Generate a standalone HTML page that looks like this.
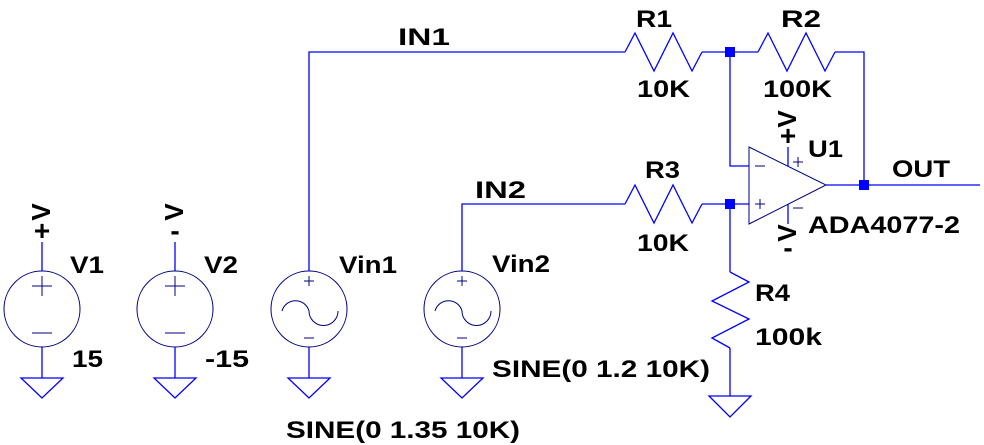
<!DOCTYPE html>
<html><head><style>body{margin:0;background:#fff}svg{display:block}text{font-family:"Liberation Sans",sans-serif;font-weight:bold;font-size:24px;fill:#000}</style></head><body>
<svg width="984" height="445" viewBox="0 0 984 445" xmlns="http://www.w3.org/2000/svg">
<g stroke="#0000ff" stroke-width="1.3" fill="none">
<polyline points="309,271 309,52 625,52"/>
<line x1="702" y1="52" x2="758" y2="52"/>
<polyline points="835,52 864,52 864,185"/>
<polyline points="730,52 730,166 749,166"/>
<line x1="826" y1="185" x2="980" y2="185"/>
<polyline points="462,271 462,204 625,204"/>
<line x1="702" y1="204" x2="749" y2="204"/>
<line x1="730" y1="204" x2="730" y2="272"/>
<line x1="730" y1="348" x2="730" y2="396"/>
<line x1="42" y1="242" x2="42" y2="271"/><line x1="42" y1="347" x2="42" y2="378"/>
<line x1="175" y1="242" x2="175" y2="271"/><line x1="175" y1="347" x2="175" y2="378"/>
<line x1="309" y1="347" x2="309" y2="378"/>
<line x1="462" y1="347" x2="462" y2="378"/>
<line x1="788" y1="147" x2="788" y2="166"/><line x1="788" y1="204" x2="788" y2="224"/>
<polygon points="21,378 63,378 42,398"/><polygon points="154,378 196,378 175,398"/>
<polygon points="288,378 330,378 309,398"/><polygon points="441,378 483,378 462,398"/>
<polygon points="709,396 751,396 730,417"/>
<polyline points="625,52 635,33 654,71 673,33 692,71 702,52"/>
<polyline points="758,52 768,33 787,71 806,33 825,71 835,52"/>
<polyline points="625,204 635,185 654,223 673,185 692,223 702,204"/>
<polyline points="730,272 749,282 712,301 749,319 712,338 730,348"/>
</g>
<g stroke="#000080" stroke-width="1" fill="none">
<circle cx="42" cy="309" r="38"/><circle cx="175" cy="309" r="38"/>
<circle cx="309" cy="309" r="38"/><circle cx="462" cy="309" r="38"/>
<path d="M32,286h20M42,276v20M32,333h20"/>
<path d="M165,286h20M175,276v20M165,333h20"/>
<path d="M304,281h10M309,276v10M304,338h10"/>
<path d="M457,281h10M462,276v10M457,338h10"/>
<path d="M282,311 A14,14 0 0 1 309,311 A14,14 0 0 0 338,311"/>
<path d="M435,311 A14,14 0 0 1 462,311 A14,14 0 0 0 491,311"/>
<polygon points="749,147 826,185 749,224"/>
<path d="M755,166h10M755,204h10M760,199v10M793,162h10M798,157v10M793,208h10"/>
</g>
<g fill="#0000ff">
<rect x="725" y="47" width="10" height="10"/><rect x="859" y="180" width="10" height="10"/><rect x="725" y="199" width="10" height="10"/>
</g>
<g lengthAdjust="spacingAndGlyphs">
<text x="398" y="45" textLength="52" lengthAdjust="spacingAndGlyphs">IN1</text>
<text x="636" y="27" textLength="36" lengthAdjust="spacingAndGlyphs">R1</text>
<text x="781" y="27" textLength="40" lengthAdjust="spacingAndGlyphs">R2</text>
<text x="637" y="97" textLength="53" lengthAdjust="spacingAndGlyphs">10K</text>
<text x="763" y="97" textLength="69" lengthAdjust="spacingAndGlyphs">100K</text>
<text x="808" y="157" textLength="35" lengthAdjust="spacingAndGlyphs">U1</text>
<text x="892" y="177" textLength="58" lengthAdjust="spacingAndGlyphs">OUT</text>
<text x="808" y="233" textLength="152" lengthAdjust="spacingAndGlyphs">ADA4077-2</text>
<text x="645" y="178" textLength="35" lengthAdjust="spacingAndGlyphs">R3</text>
<text x="475" y="198" textLength="51" lengthAdjust="spacingAndGlyphs">IN2</text>
<text x="637" y="251" textLength="52" lengthAdjust="spacingAndGlyphs">10K</text>
<text x="492" y="272" textLength="58" lengthAdjust="spacingAndGlyphs">Vin2</text>
<text x="755" y="301" textLength="35" lengthAdjust="spacingAndGlyphs">R4</text>
<text x="755" y="345" textLength="67" lengthAdjust="spacingAndGlyphs">100k</text>
<text x="492" y="377" textLength="218" lengthAdjust="spacingAndGlyphs">SINE(0 1.2 10K)</text>
<text x="286" y="438" textLength="234" lengthAdjust="spacingAndGlyphs">SINE(0 1.35 10K)</text>
<text x="70" y="273" textLength="34" lengthAdjust="spacingAndGlyphs">V1</text>
<text x="204" y="273" textLength="34" lengthAdjust="spacingAndGlyphs">V2</text>
<text x="339" y="273" textLength="58" lengthAdjust="spacingAndGlyphs">Vin1</text>
<text x="72" y="367" textLength="31" lengthAdjust="spacingAndGlyphs">15</text>
<text x="205" y="367" textLength="44" lengthAdjust="spacingAndGlyphs">-15</text>
</g>
<text x="50" y="212" transform="rotate(-90 50 212)" text-anchor="middle" style="font-size:26px">V</text>
<text x="42" y="240" text-anchor="middle" style="font-size:28px">+</text>
<text x="183" y="212" transform="rotate(-90 183 212)" text-anchor="middle" style="font-size:26px">V</text>
<text x="175" y="240" text-anchor="middle" style="font-size:28px">-</text>
<text x="796" y="119" transform="rotate(-90 796 119)" text-anchor="middle" style="font-size:26px">V</text>
<text x="788" y="145" text-anchor="middle" style="font-size:28px">+</text>
<text x="796" y="233" transform="rotate(-90 796 233)" text-anchor="middle" style="font-size:26px">V</text>
<text x="788" y="257" text-anchor="middle" style="font-size:28px">-</text>
</svg>
</body></html>
